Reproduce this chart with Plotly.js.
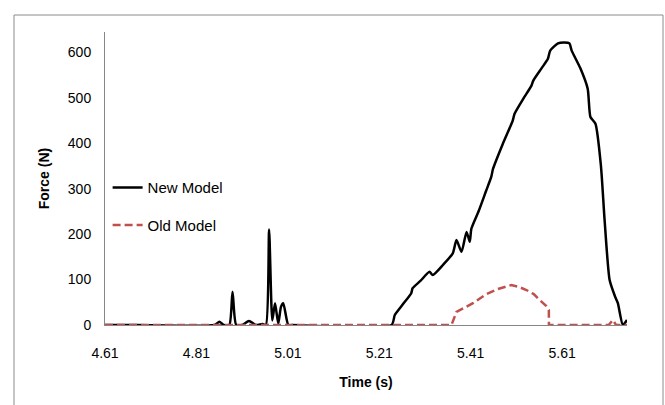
<!DOCTYPE html>
<html>
<head>
<meta charset="utf-8">
<script src="https://cdn.plot.ly/plotly-3.0.1.min.js"></script>
<style>html,body{margin:0;padding:0;background:#fff;}#chart{width:665px;height:405px;}</style>
</head>
<body>
<div id="chart"></div>
<script>
// New Model (black solid)
const newTime = [4.61, 4.68, 4.85, 4.860, 4.870, 4.882, 4.889, 4.897, 4.910, 4.925, 4.940, 4.955, 4.962, 4.969, 4.976, 4.982, 4.989, 4.995, 5.000, 5.011, 5.02,
  5.237, 5.244, 5.262, 5.280, 5.283, 5.300, 5.320, 5.327, 5.350, 5.371, 5.379, 5.390, 5.401, 5.408, 5.4115, 5.428, 5.444, 5.455, 5.459, 5.480, 5.502, 5.506, 5.525, 5.543, 5.547, 5.565, 5.579, 5.584, 5.601, 5.615, 5.626, 5.631, 5.650, 5.666, 5.672, 5.683, 5.695, 5.703, 5.714, 5.725, 5.732, 5.743, 5.752];
const newForce = [0, 0, 0, 7, 0, 0, 73, 0, 0, 9, 0, 2, 0, 210, 10, 48, 3, 40, 48, 0, 0,
  0, 22, 46, 70, 81, 97, 117, 110, 133, 158, 187, 161, 205, 183, 212, 252, 296, 326, 344, 398, 450, 465, 498, 527, 538, 565, 586, 604, 620, 622, 620, 604, 565, 520, 458, 443, 350, 231, 99, 65, 48, 0, 11];

// Old Model (red dashed)
const oldTime = [4.61, 5.368, 5.379, 5.395, 5.415, 5.444, 5.469, 5.499, 5.515, 5.532, 5.548, 5.561, 5.575, 5.581, 5.5812, 5.712, 5.721, 5.728, 5.752];
const oldForce = [0, 0, 29, 38, 48, 68, 79, 88, 84, 77, 68, 55, 42, 33, 0, 0, 11, 0, 0];

// Axis ticks
const xTicks = [4.61, 4.81, 5.01, 5.21, 5.41, 5.61];
const xTickText = ["4.61", "4.81", "5.01", "5.21", "5.41", "5.61"];
const yTicks = [0, 100, 200, 300, 400, 500, 600];

const FONT = "Liberation Sans, Arial, sans-serif";

const traces = [
  {
    x: newTime, y: newForce, type: "scatter", mode: "lines", name: "New Model",
    line: {color: "#000000", width: 2.5, shape: "spline", smoothing: 0.6},
    legendgroup: "a"
  },
  {
    x: oldTime, y: oldForce, type: "scatter", mode: "lines", name: "Old Model",
    line: {color: "#C0504D", width: 2.5, dash: "8px,4px"},
    legendgroup: "b"
  }
];

const layout = {
  width: 665, height: 405,
  margin: {l: 105, r: 38, t: 32, b: 80},
  paper_bgcolor: "#ffffff", plot_bgcolor: "#ffffff",
  font: {family: FONT, size: 14, color: "#000"},
  showlegend: true,
  legend: {
    x: 0.005, y: 0.525, xanchor: "left", yanchor: "top",
    bgcolor: "rgba(0,0,0,0)", font: {family: FONT, size: 15, color: "#000"},
    tracegroupgap: 15, itemwidth: 30
  },
  xaxis: {
    range: [4.61, 5.752], tickmode: "array", tickvals: xTicks, ticktext: xTickText,
    showgrid: false, zeroline: false, showline: true, linecolor: "#868686", linewidth: 1,
    ticks: "", ticklabelstandoff: 15, tickfont: {family: FONT, size: 14},
    title: {text: "<b>Time (s)</b>", font: {family: FONT, size: 14}, standoff: 17}
  },
  yaxis: {
    range: [0, 645], tickmode: "array", tickvals: yTicks,
    showgrid: false, zeroline: false, showline: true, linecolor: "#868686", linewidth: 1,
    ticks: "", ticklabelstandoff: 10, tickfont: {family: FONT, size: 14},
    title: {text: "<b>Force (N)</b>", font: {family: FONT, size: 14}, standoff: 14}
  },
  shapes: [
    {type: "rect", xref: "paper", yref: "paper",
     x0: (14 - 105) / 522, x1: (663 - 105) / 522, y0: (325 - 420) / 293, y1: (325 - 15) / 293,
     line: {color: "#8c8c8c", width: 1}, fillcolor: "rgba(0,0,0,0)", layer: "below"}
  ]
};

Plotly.newPlot("chart", traces, layout, {displayModeBar: false, staticPlot: true});
</script>
</body>
</html>
